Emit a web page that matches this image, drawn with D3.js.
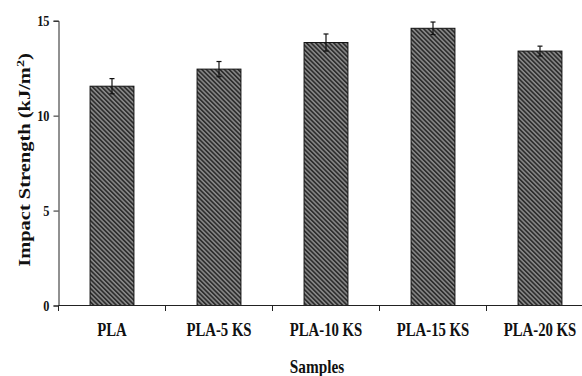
<!DOCTYPE html>
<html>
<head>
<meta charset="utf-8">
<script src="https://cdn.jsdelivr.net/npm/d3@7"></script>
<style>
  body { margin: 0; background: #fff; }
  text { font-family: "Liberation Serif", "Times New Roman", serif; font-weight: bold; fill: #111; }
</style>
</head>
<body>
<div id="chart"></div>
<script>
const samples = ["PLA", "PLA-5 KS", "PLA-10 KS", "PLA-15 KS", "PLA-20 KS"];
const strength = [11.55, 12.45, 13.85, 14.6, 13.4];
const errors = [0.4, 0.4, 0.45, 0.33, 0.26];
const yTicks = [0, 5, 10, 15];

const width = 582, height = 376;
const mLeft = 58.5, mTop = 20.7, mBottom = 305.5;

const svg = d3.select('#chart')
    .append('svg')
    .attr('width', width)
    .attr('height', height);

// hatch fill
const pat = svg.append('defs')
    .append('pattern')
    .attr('id', 'hatch')
    .attr('patternUnits', 'userSpaceOnUse')
    .attr('width', 3.2)
    .attr('height', 3.2)
    .attr('patternTransform', 'rotate(-45)');
pat.append('rect').attr('width', 3.2).attr('height', 3.2).attr('fill', '#8a8a8a');
pat.append('rect').attr('width', 1.7).attr('height', 3.2).attr('fill', '#2e2e2e');

const x = d3.scaleBand()
    .domain(samples)
    .range([mLeft, mLeft + 5 * 107])
    .padding(0);

const y = d3.scaleLinear()
    .domain([0, 15])
    .range([mBottom, mTop]);

const barW = x.bandwidth() * 0.41;

// bars
svg.append('g')
    .selectAll('rect')
    .data(samples)
    .join('rect')
    .attr('x', d => x(d) + x.bandwidth() / 2 - barW / 2)
    .attr('y', (d, i) => y(strength[i]))
    .attr('width', barW)
    .attr('height', (d, i) => y(0) - y(strength[i]))
    .attr('fill', 'url(#hatch)')
    .attr('stroke', '#111')
    .attr('stroke-width', 1);

// error bars
const eb = svg.append('g')
    .attr('stroke', '#111')
    .attr('stroke-width', 1.2)
    .selectAll('g')
    .data(samples)
    .join('g');
eb.append('line')
    .attr('x1', d => x(d) + x.bandwidth() / 2)
    .attr('x2', d => x(d) + x.bandwidth() / 2)
    .attr('y1', (d, i) => y(strength[i] + errors[i]))
    .attr('y2', (d, i) => y(strength[i] - errors[i]));
eb.selectAll('.cap')
    .data((d, i) => [strength[i] + errors[i], strength[i] - errors[i]].map(v => ({d, v})))
    .join('line')
    .attr('x1', c => x(c.d) + x.bandwidth() / 2 - 2.5)
    .attr('x2', c => x(c.d) + x.bandwidth() / 2 + 2.5)
    .attr('y1', c => y(c.v))
    .attr('y2', c => y(c.v));

// y axis
const yAxis = svg.append('g')
    .attr('transform', `translate(${mLeft},0)`)
    .call(d3.axisLeft(y).tickValues(yTicks).tickSize(5).tickPadding(5));
yAxis.select('.domain').attr('stroke', '#222');
yAxis.selectAll('.tick line').attr('stroke', '#222');
yAxis.selectAll('.tick text')
    .style('font-size', '15px')
    .attr('transform', 'scale(0.82,1)')
    .attr('x', -9 / 0.82);

// x axis: domain line + boundary ticks
const xg = svg.append('g').attr('transform', `translate(0,${mBottom})`);
xg.append('line')
    .attr('x1', mLeft).attr('x2', width)
    .attr('stroke', '#222');
xg.selectAll('.bt')
    .data(samples)
    .join('line')
    .attr('x1', d => x(d)).attr('x2', d => x(d))
    .attr('y1', 0).attr('y2', 5.5)
    .attr('stroke', '#222');

xg.selectAll('.lbl')
    .data(samples)
    .join('text')
    .attr('text-anchor', 'middle')
    .style('font-size', '18px')
    .attr('transform', d => `translate(${x(d) + x.bandwidth() / 2},30) scale(0.82,1)`)
    .text(d => d);

// axis titles
svg.append('text')
    .attr('text-anchor', 'middle')
    .style('font-size', '18px')
    .attr('transform', 'translate(317,373) scale(0.85,1)')
    .text('Samples');

const yt = svg.append('text')
    .attr('text-anchor', 'middle')
    .style('font-size', '16px')
    .attr('transform', 'translate(30,160) rotate(-90) scale(1.28,1)');
yt.append('tspan').text('Impact Strength (kJ/m');
yt.append('tspan').attr('dy', -6).style('font-size', '11px').text('2');
yt.append('tspan').attr('dy', 6).text(')');
</script>
</body>
</html>
